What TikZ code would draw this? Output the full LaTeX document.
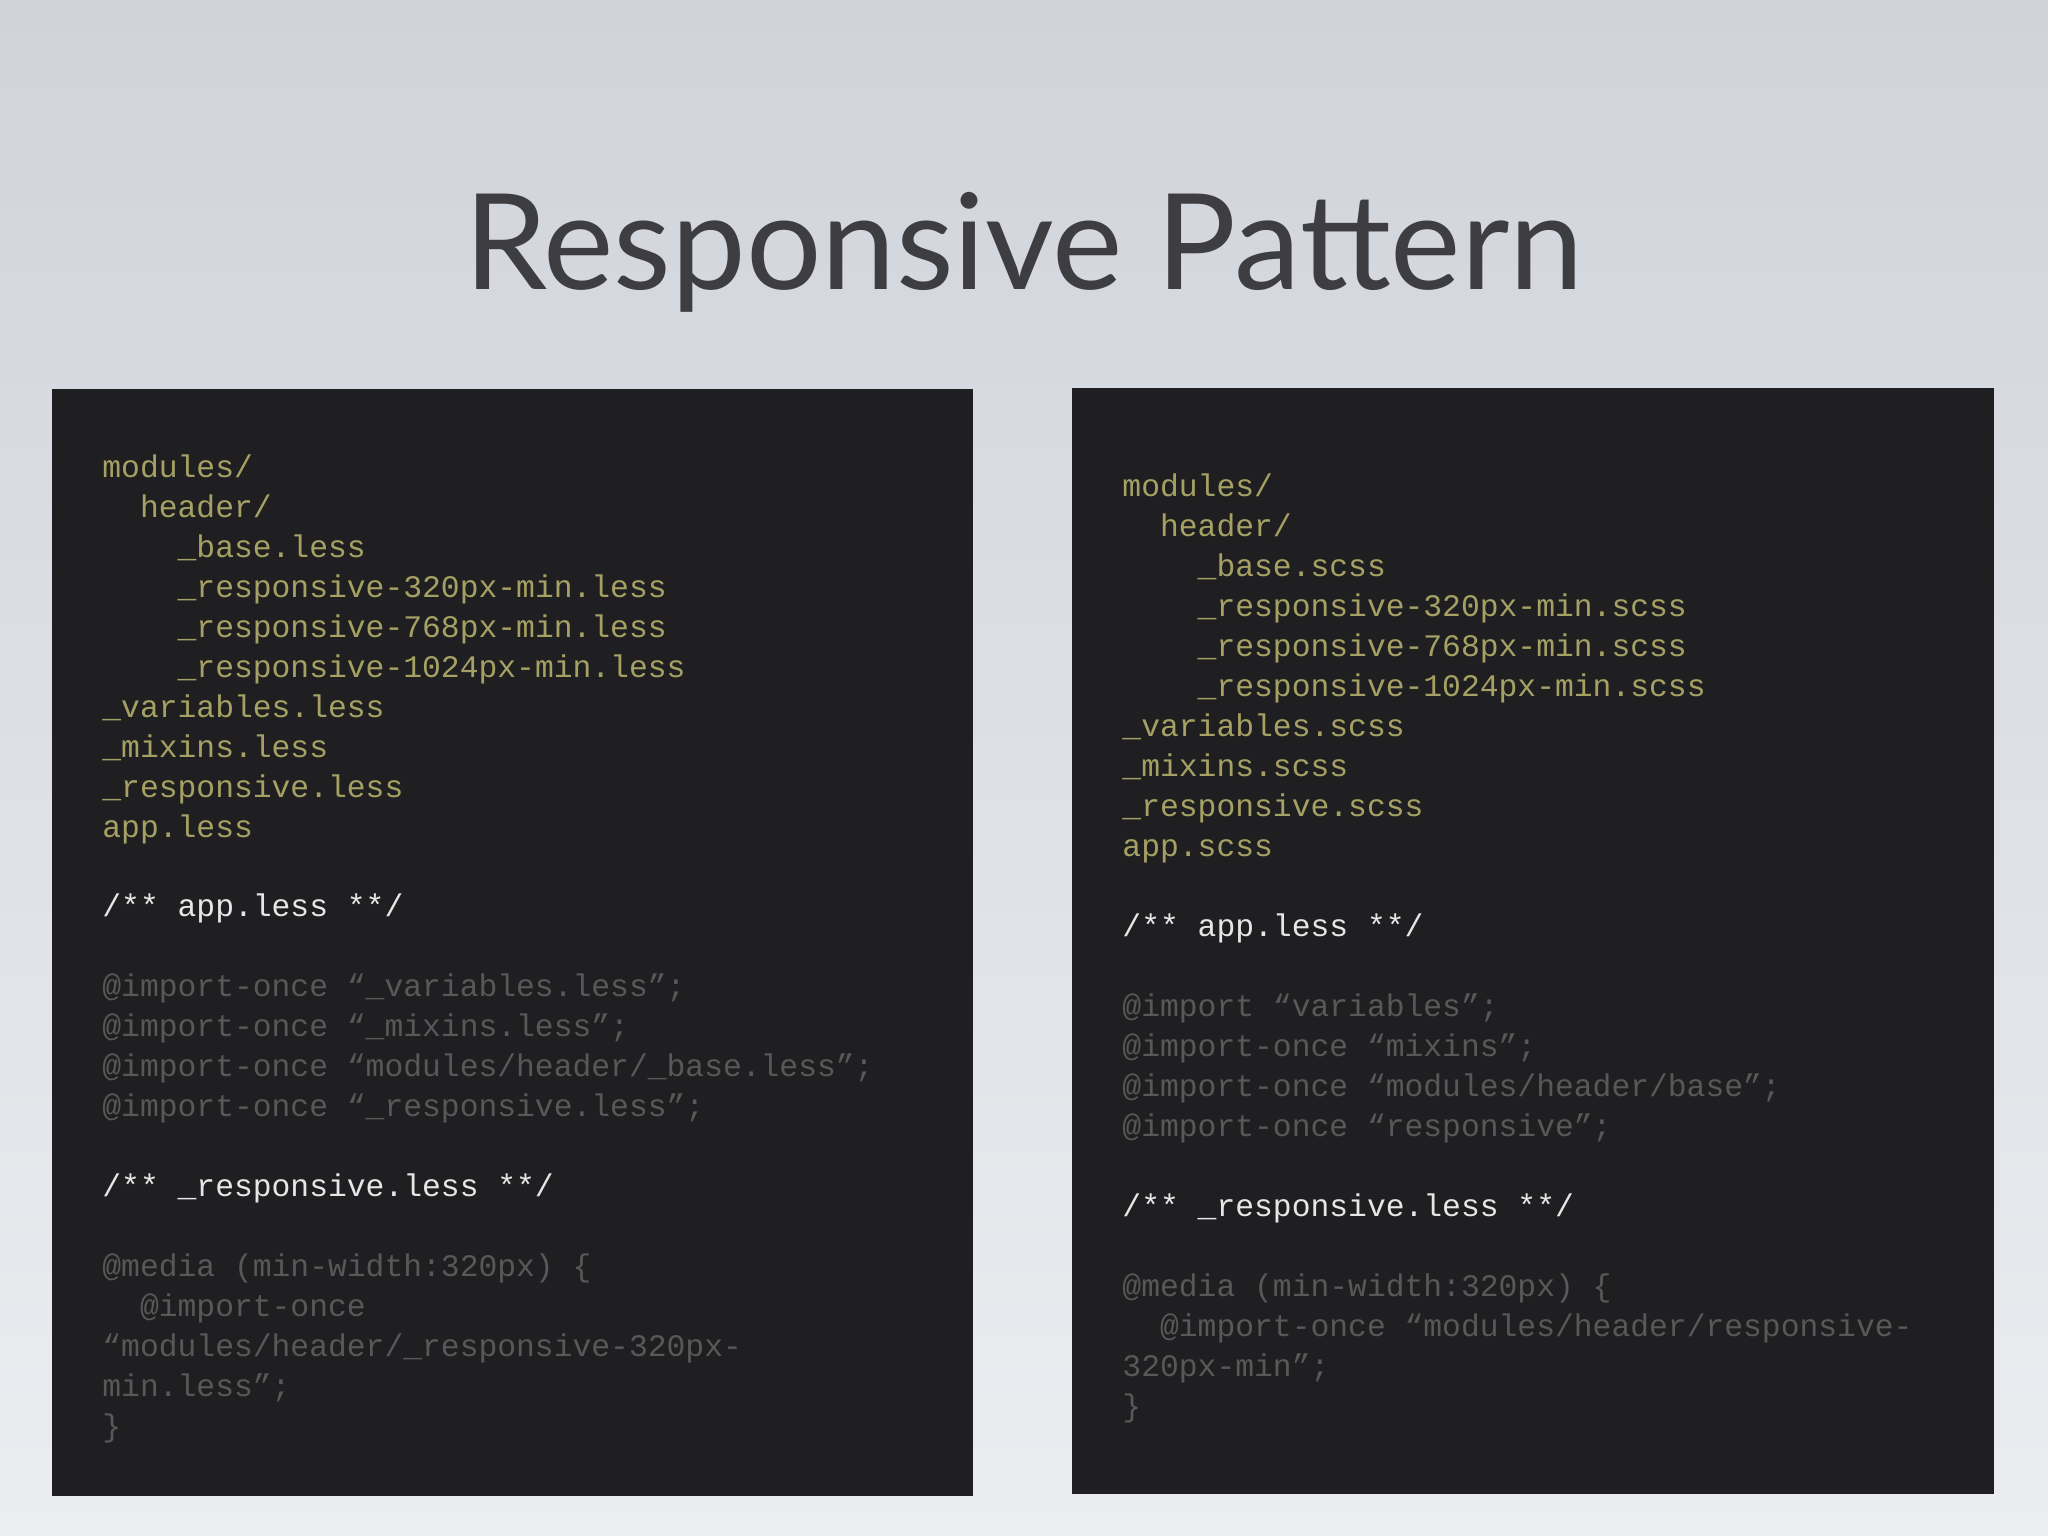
\documentclass[tikz,border=0pt]{standalone}
\usepackage{fontspec}
\setmainfont{Lato}
\newfontfamily\codefont{Liberation Mono}
\definecolor{bgtop}{RGB}{208,211,218}
\definecolor{bgbot}{RGB}{236,237,241}
\definecolor{boxc}{RGB}{31,31,33}
\definecolor{fy}{RGB}{165,161,100}
\definecolor{fw}{RGB}{230,230,230}
\definecolor{fg}{RGB}{88,88,88}
\definecolor{titlec}{RGB}{62,62,66}
\newcommand{\ind}[1]{\hspace*{#1\fontcharwd\font`0}}
\tikzset{codebox/.style={fill=boxc,draw=none},
 code/.style={anchor=north west,align=left,inner sep=0pt,font=\codefont\fontsize{12}{15.3}\selectfont}}
\begin{document}
\begin{tikzpicture}[x=1pt,y=1pt]
\shade[top color=bgtop,bottom color=bgbot] (0,0) rectangle (784,-588);
\useasboundingbox (0,0) rectangle (784,-588);
\node[font=\fontsize{51}{60}\selectfont,text=titlec,anchor=base] (title) at (392,-111) {Responsive Pattern};
\fill[codebox] (20,-149) rectangle (372.5,-572.5);
\fill[codebox] (410.5,-148.5) rectangle (763.5,-572);
\node[code] (left) at (39,-171.8) {%
\strut\color{fy}modules/\\
\color{fy}\ind{2}header/\\
\color{fy}\ind{4}\_base.less\\
\color{fy}\ind{4}\_responsive-320px-min.less\\
\color{fy}\ind{4}\_responsive-768px-min.less\\
\color{fy}\ind{4}\_responsive-1024px-min.less\\
\color{fy}\_variables.less\\
\color{fy}\_mixins.less\\
\color{fy}\_responsive.less\\
\color{fy}app.less\\
\strut\\
\color{fw}/** app.less **/\\
\strut\\
\color{fg}@import-once “\_variables.less”;\\
\color{fg}@import-once “\_mixins.less”;\\
\color{fg}@import-once “modules/header/\_base.less”;\\
\color{fg}@import-once “\_responsive.less”;\\
\strut\\
\color{fw}/** \_responsive.less **/\\
\strut\\
\color{fg}@media (min-width:320px) \{\\
\color{fg}\ind{2}@import-once\\
\color{fg}“modules/header/\_responsive-320px-\\
\color{fg}min.less”;\\
\color{fg}\}};
\node[code] (right) at (429.5,-179.3) {%
\strut\color{fy}modules/\\
\color{fy}\ind{2}header/\\
\color{fy}\ind{4}\_base.scss\\
\color{fy}\ind{4}\_responsive-320px-min.scss\\
\color{fy}\ind{4}\_responsive-768px-min.scss\\
\color{fy}\ind{4}\_responsive-1024px-min.scss\\
\color{fy}\_variables.scss\\
\color{fy}\_mixins.scss\\
\color{fy}\_responsive.scss\\
\color{fy}app.scss\\
\strut\\
\color{fw}/** app.less **/\\
\strut\\
\color{fg}@import “variables”;\\
\color{fg}@import-once “mixins”;\\
\color{fg}@import-once “modules/header/base”;\\
\color{fg}@import-once “responsive”;\\
\strut\\
\color{fw}/** \_responsive.less **/\\
\strut\\
\color{fg}@media (min-width:320px) \{\\
\color{fg}\ind{2}@import-once “modules/header/responsive-\\
\color{fg}320px-min”;\\
\color{fg}\}};
\end{tikzpicture}
\end{document}
